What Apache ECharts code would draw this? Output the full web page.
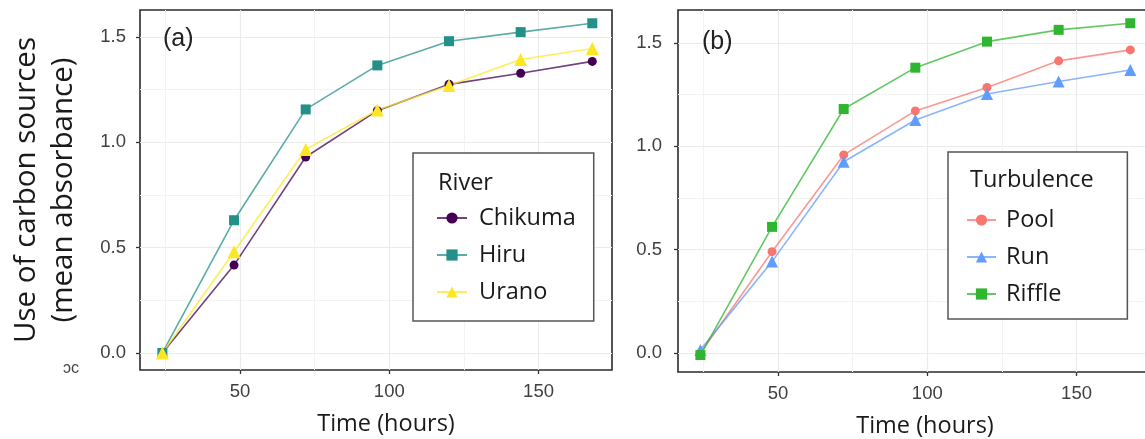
<!DOCTYPE html>
<html>
<head>
<meta charset="utf-8">
<script src="https://cdn.jsdelivr.net/npm/echarts@6/dist/echarts.min.js"></script>
<style>
  html, body { margin: 0; padding: 0; background: #fff; }
  #chart { width: 1145px; height: 439px; }
</style>
</head>
<body>
<div id="chart"></div>
<script>
// ----- Data -----
const hours = [24, 48, 72, 96, 120, 144, 168];

// (a) River
const chikuma = [0, 0.417, 0.93, 1.15, 1.275, 1.328, 1.384];
const hiru    = [0, 0.63, 1.156, 1.365, 1.48, 1.523, 1.565];
const urano   = [0, 0.48, 0.966, 1.153, 1.27, 1.393, 1.445];

// (b) Turbulence
const pool   = [0, 0.49, 0.958, 1.171, 1.284, 1.413, 1.466];
const run    = [0.015, 0.442, 0.925, 1.127, 1.253, 1.313, 1.369];
const riffle = [-0.01, 0.61, 1.18, 1.38, 1.506, 1.563, 1.595];

const xMajor = [50, 100, 150];
const xMinor = [25, 75, 125];
const yMajor = [0, 0.5, 1.0, 1.5];
const yMinor = [0.25, 0.75, 1.25];
const yMajorLabels = ['0.0', '0.5', '1.0', '1.5'];

const X_MIN = 16.5, X_MAX = 174.6;

const chart = echarts.init(document.getElementById('chart'));

// ----- Helpers -----
function lineSeries(name, vals, color, symbol, size, idx) {
  return {
    name,
    type: 'line',
    xAxisIndex: idx,
    yAxisIndex: idx,
    data: hours.map((h, i) => [h, vals[i]]),
    symbol,
    symbolSize: size,
    itemStyle: { color },
    lineStyle: { color, width: 1.6, opacity: 0.75 },
    emphasis: { disabled: true }
  };
}

function xMajorAxis(gridIndex, nameShift) {
  return {
    type: 'value', gridIndex, min: X_MIN, max: X_MAX, position: 'bottom',
    name: 'Time (hours)', nameLocation: 'middle', nameGap: 40,
    nameTextStyle: {
      fontFamily: 'Open Sans', fontSize: 23.5, lineHeight: 28, color: '#1a1a1a',
      padding: [0, 0, 0, nameShift]
    },
    axisLine: { show: false, onZero: false },
    axisTick: { show: true, customValues: xMajor, length: 4, lineStyle: { color: '#333', width: 1.3 } },
    axisLabel: { customValues: xMajor, margin: 12, fontFamily: 'Liberation Sans', fontSize: 18.5, color: '#404040' },
    splitLine: { show: true, lineStyle: { color: '#ebebeb', width: 1.2 } }
  };
}

function xMinorAxis(gridIndex) {
  return {
    type: 'value', gridIndex, min: X_MIN, max: X_MAX, position: 'bottom',
    axisLine: { show: false, onZero: false },
    axisTick: { show: false, customValues: xMinor },
    axisLabel: { show: false },
    splitLine: { show: true, lineStyle: { color: '#f3f3f3', width: 1 } }
  };
}

function yMajorAxis(gridIndex, min, max, margin, withName) {
  const ax = {
    type: 'value', gridIndex, min, max, position: 'left',
    axisLine: { show: false, onZero: false },
    axisTick: { show: true, customValues: yMajor, length: 4, lineStyle: { color: '#333', width: 1.3 } },
    axisLabel: {
      customValues: yMajor, margin,
      formatter: v => yMajorLabels[yMajor.indexOf(Math.round(v * 100) / 100)] ?? v.toFixed(1),
      fontFamily: 'Liberation Sans', fontSize: 18.5, color: '#404040'
    },
    splitLine: { show: true, lineStyle: { color: '#ebebeb', width: 1.2 } }
  };
  if (withName) {
    ax.name = 'Use of carbon sources\n(mean absorbance)';
    ax.nameLocation = 'middle';
    ax.nameRotate = 90;
    ax.nameGap = 58;
    ax.nameTextStyle = { fontFamily: 'Open Sans', fontSize: 29.5, lineHeight: 37, color: '#1a1a1a', align: 'center' };
  }
  return ax;
}

function yMinorAxis(gridIndex, min, max) {
  return {
    type: 'value', gridIndex, min, max, position: 'left',
    axisLine: { show: false, onZero: false },
    axisTick: { show: false, customValues: yMinor },
    axisLabel: { show: false },
    splitLine: { show: true, lineStyle: { color: '#f3f3f3', width: 1 } }
  };
}

const legendText = { fontFamily: 'Open Sans', fontSize: 23.5, lineHeight: 24, color: '#1a1a1a' };
const titleText = { fontFamily: 'Open Sans', fontSize: 23.5, lineHeight: 28, color: '#1a1a1a', fontWeight: 'normal' };
const tagText = { fontFamily: 'Liberation Sans', fontSize: 25, color: '#222', fontWeight: 'normal' };

// ----- Chart -----
chart.setOption({
  animation: false,
  backgroundColor: '#fff',
  grid: [
    { left: 140, top: 10, width: 472, height: 360, outerBoundsMode: 'none', containLabel: false,
      show: true, borderColor: '#2b2b2b', borderWidth: 1.6, backgroundColor: 'transparent' },
    { left: 678, top: 10, width: 472, height: 362, outerBoundsMode: 'none', containLabel: false,
      show: true, borderColor: '#2b2b2b', borderWidth: 1.6, backgroundColor: 'transparent' }
  ],
  xAxis: [
    xMajorAxis(0, 20),
    xMinorAxis(0),
    xMajorAxis(1, 22),
    xMinorAxis(1)
  ],
  yAxis: [
    yMajorAxis(0, -0.081, 1.628, 14, true),
    yMinorAxis(0, -0.081, 1.628),
    yMajorAxis(1, -0.092, 1.659, 16, false),
    yMinorAxis(1, -0.092, 1.659)
  ],
  title: [
    { text: '(a)', left: 163, top: 27, padding: 0, textStyle: tagText },
    { text: '(b)', left: 702, top: 30, padding: 0, textStyle: tagText },
    { text: 'River', left: 438, top: 169, padding: 0, textStyle: titleText, z: 10 },
    { text: 'Turbulence', left: 970, top: 166, padding: 0, textStyle: titleText, z: 10 }
  ],
  legend: [
    {
      data: ['Chikuma', 'Hiru', 'Urano'],
      orient: 'vertical', left: 413, top: 153,
      padding: [53, 18, 17, 23], itemGap: 13, itemWidth: 30, itemHeight: 14,
      borderColor: '#555', borderWidth: 1.5, backgroundColor: '#fff',
      textStyle: Object.assign({ padding: [0, 0, 0, 7] }, legendText),
      selectedMode: false
    },
    {
      data: ['Pool', 'Run', 'Riffle'],
      orient: 'vertical', left: 948, top: 152,
      padding: [56, 66, 13, 18], itemGap: 13, itemWidth: 29, itemHeight: 14,
      borderColor: '#555', borderWidth: 1.5, backgroundColor: '#fff',
      textStyle: Object.assign({ padding: [0, 0, 0, 5] }, legendText),
      selectedMode: false
    }
  ],
  graphic: [
    { type: 'text', left: 63, top: 361, style: { text: 'ɔc', fontSize: 16, fontFamily: 'Liberation Sans', fill: '#444' } }
  ],
  series: [
    lineSeries('Chikuma', chikuma, '#440154', 'circle', 9, 0),
    lineSeries('Hiru', hiru, '#24908a', 'rect', 10, 0),
    lineSeries('Urano', urano, '#fde725', 'triangle', 13, 0),
    lineSeries('Pool', pool, '#f8766d', 'circle', 9, 2),
    lineSeries('Run', run, '#619cff', 'triangle', 12, 2),
    lineSeries('Riffle', riffle, '#2fb52f', 'rect', 10, 2)
  ]
});

window.addEventListener('resize', () => chart.resize());
</script>
</body>
</html>
